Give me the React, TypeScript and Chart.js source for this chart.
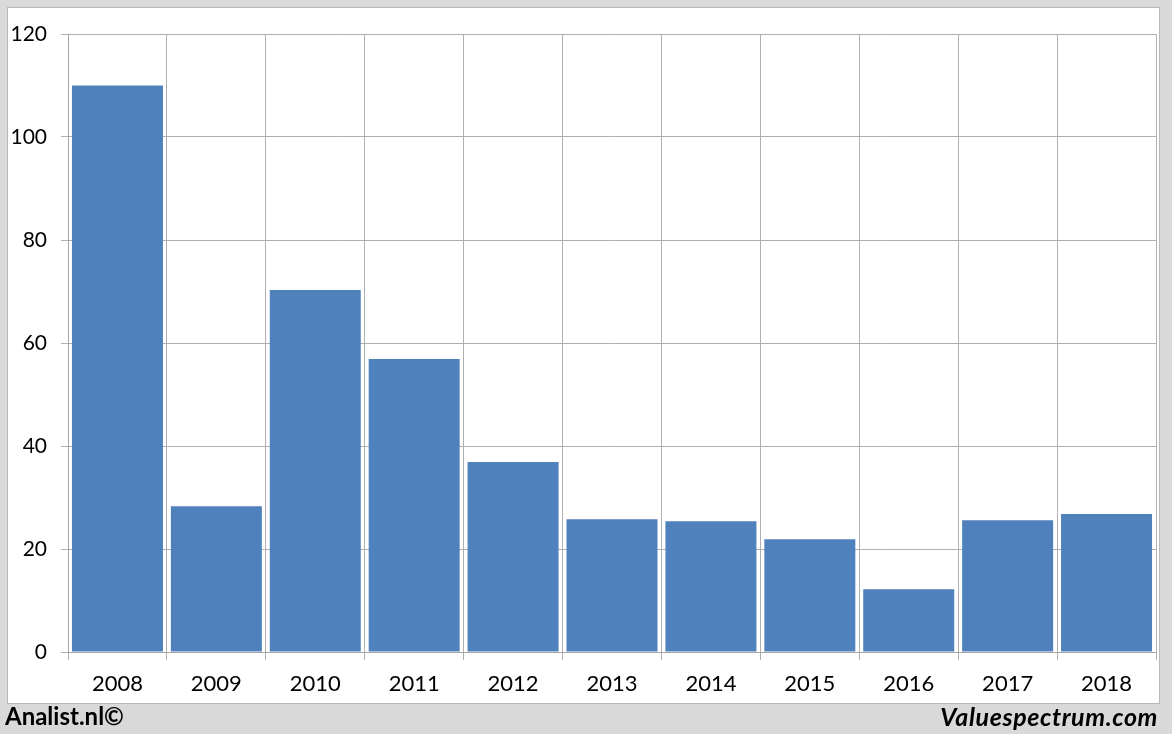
import React, { useEffect, useRef } from "react";
import { Chart, registerables } from "chart.js";

Chart.register(...registerables);

const years = ["2008", "2009", "2010", "2011", "2012", "2013", "2014", "2015", "2016", "2017", "2018"];
const values = [110, 28.3, 70.3, 56.9, 36.9, 25.8, 25.4, 21.9, 12.2, 25.6, 26.8];
const yTicks = [0, 20, 40, 60, 80, 100, 120];

const FONT = "Lato, 'Open Sans', sans-serif";

export default function App() {
  const ref = useRef<HTMLCanvasElement | null>(null);

  useEffect(() => {
    if (!ref.current) return;
    const chart = new Chart(ref.current, {
      type: "bar",
      data: {
        labels: years,
        datasets: [
          {
            data: values,
            backgroundColor: "#4f81bd",
            borderWidth: 0,
            barPercentage: 0.92,
            categoryPercentage: 1,
          },
        ],
      },
      options: {
        animation: false,
        responsive: false,
        maintainAspectRatio: false,
        layout: { padding: { left: 0, right: 16, top: 34, bottom: 0 } },
        plugins: { legend: { display: false }, tooltip: { enabled: false } },
        scales: {
          x: {
            grid: { offset: true, color: "#b0b0b0", lineWidth: 1, tickLength: 8, drawTicks: true },
            border: { display: true, color: "#a6a6a6" },
            ticks: { color: "#000", font: { family: FONT, size: 22 }, padding: 11 },
            afterFit: (s: any) => {
              s.height = 82;
            },
          },
          y: {
            min: 0,
            max: 120,
            afterBuildTicks: (s: any) => {
              s.ticks = yTicks.map((v) => ({ value: v }));
            },
            grid: { color: "#b0b0b0", lineWidth: 1, tickLength: 7 },
            border: { display: true, color: "#a6a6a6" },
            ticks: { color: "#000", font: { family: FONT, size: 21 }, padding: 14 },
            afterFit: (s: any) => {
              s.width = 68;
            },
          },
        },
      },
    });
    return () => chart.destroy();
  }, []);

  return (
    <div style={{ position: "absolute", left: 0, top: 0, width: 1172, height: 734, background: "#d9d9d9", overflow: "hidden" }}>
      <div
        style={{
          position: "absolute",
          left: 7,
          top: 7,
          width: 1153,
          height: 697,
          boxSizing: "border-box",
          background: "#ffffff",
          border: "1px solid #b8b8b8",
        }}
      />
      <canvas ref={ref} width={1172} height={734} style={{ position: "absolute", left: 0, top: 0, width: 1172, height: 734 }} />
      <div
        style={{
          position: "absolute",
          left: 5,
          top: 701,
          fontFamily: FONT,
          fontWeight: 700,
          fontSize: 24,
          lineHeight: "30px",
          color: "#000",
          whiteSpace: "nowrap",
        }}
      >
        Analist.nl©
      </div>
      <div
        style={{
          position: "absolute",
          right: 14,
          top: 701,
          fontFamily: FONT,
          fontWeight: 700,
          fontStyle: "italic",
          fontSize: 25,
          letterSpacing: "0.6px",
          lineHeight: "30px",
          color: "#000",
          whiteSpace: "nowrap",
        }}
      >
        Valuespectrum.com
      </div>
    </div>
  );
}
